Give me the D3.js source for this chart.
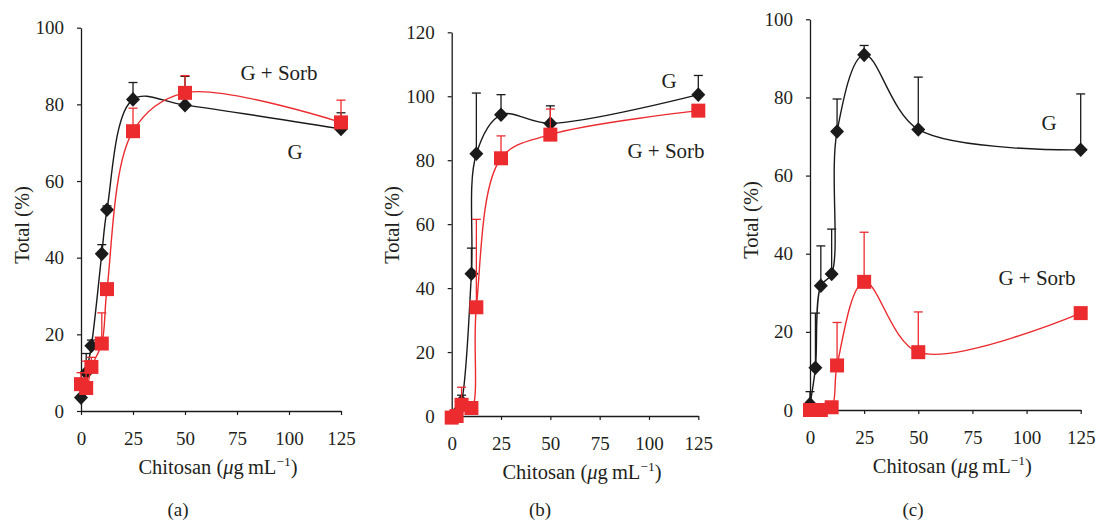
<!DOCTYPE html>
<html>
<head>
<meta charset="utf-8">
<script src="https://cdn.jsdelivr.net/npm/d3@7"></script>
<style>
  html, body { margin: 0; padding: 0; background: #fff; }
  svg { display: block; }
  text { font-family: "Liberation Serif", "DejaVu Serif", serif; fill: #231f20; }
</style>
</head>
<body>
<svg id="fig" width="1097" height="522"></svg>
<script>
// Chitosan concentrations (µg/mL) shared by all three panels
const conc = [0, 2.5, 5, 10, 12.5, 25, 50, 125];

// Panel (a)
const gA      = [3.5, 10, 17, 41, 52.5, 81.3, 79.8, 73.6];
const gAErr   = [0, 5, 1.5, 2.4, 1, 4.4, 7.5, 4.2];
const sorbA   = [7, 6, 11.5, 17.6, 31.8, 73, 83, 75.3];
const sorbAErr= [3, 7, 2.5, 8, 1, 6, 4.5, 5.8];

// Panel (b)
const gB      = [0, 1, 4.5, 44.5, 82, 94.2, 91.5, 100.5];
const gBErr   = [0, 0, 2, 8, 19, 6.3, 5.5, 6];
const sorbB   = [-0.5, 0, 3.5, 2.5, 34, 80.6, 88, 95.5];
const sorbBErr= [0, 0, 5.5, 0, 27.5, 7, 8, 0];

// Panel (c)
const gC      = [1.5, 10.8, 31.8, 34.8, 71.3, 90.9, 71.8, 66.6];
const gCErr   = [3.2, 14, 10.2, 11.5, 8.3, 2.4, 13.4, 14.3];
const sorbC   = [0, 0, 0, 0.7, 11.4, 32.8, 14.8, 24.8];
const sorbCErr= [0, 0, 0, 0, 11, 12.7, 10.3, 0];

const xTicks  = [0, 25, 50, 75, 100, 125];
const yTicksA = [0, 20, 40, 60, 80, 100];
const yTicksB = [0, 20, 40, 60, 80, 100, 120];
const yTicksC = [0, 20, 40, 60, 80, 100];

const panelTags = ["(a)", "(b)", "(c)"];
const seriesNames = ["G", "G + Sorb"];

const BLACK = "#1a1a1a";
const RED = "#ec2b2f";
const FONT = '"Liberation Serif", "DejaVu Serif", serif';

const svg = d3.select("#fig");
svg.append("rect").attr("width", 1097).attr("height", 522).attr("fill", "#fff");

const panels = [
  { tag: panelTags[0], x0: 81, x1: 341, y0: 411, y1: 27.7, yMax: 100, yTicks: yTicksA,
    g: gA, gErr: gAErr, s: sorbA, sErr: sorbAErr,
    gLab: [295, 152], sLab: [279, 73], tagX: 178, yTitleY: 225 },
  { tag: panelTags[1], x0: 451.7, x1: 698.3, y0: 416, y1: 32.3, yMax: 120, yTicks: yTicksB,
    g: gB, gErr: gBErr, s: sorbB, sErr: sorbBErr,
    gLab: [669, 81], sLab: [666, 151], tagX: 540, yTitleY: 225 },
  { tag: panelTags[2], x0: 810, x1: 1080.7, y0: 410, y1: 19.3, yMax: 100, yTicks: yTicksC,
    g: gC, gErr: gCErr, s: sorbC, sErr: sorbCErr,
    gLab: [1049, 123], sLab: [1037, 278], tagX: 913, yTitleY: 220 }
];

const diamond = (w, h) => `M0,${-h}L${w},0L0,${h}L${-w},0Z`;
const square = h => `M${-h},${-h}H${h}V${h}H${-h}Z`;

panels.forEach(p => {
  const x = d3.scaleLinear().domain([0, 125]).range([p.x0, p.x1]);
  const y = d3.scaleLinear().domain([0, p.yMax]).range([p.y0, p.y1]);
  const gp = svg.append("g");

  // axes
  const yAxis = d3.axisLeft(y).tickValues(p.yTicks).tickSize(4).tickPadding(13).tickSizeOuter(0);
  const xAxis = d3.axisBottom(x).tickValues(xTicks).tickSize(4).tickPadding(16.5).tickSizeOuter(0);
  const ya = gp.append("g").attr("transform", `translate(${p.x0},0)`).call(yAxis);
  const xa = gp.append("g").attr("transform", `translate(0,${p.y0})`).call(xAxis);
  [ya, xa].forEach(a => {
    a.attr("font-family", FONT);
    a.select(".domain").attr("stroke", BLACK).attr("stroke-width", 1.3);
    a.selectAll(".tick line").attr("stroke", BLACK).attr("stroke-width", 1.2);
    a.selectAll(".tick text").attr("font-size", 19).attr("fill", "#231f20")
      .attr("font-family", FONT);
  });

  // axis titles
  gp.append("text")
    .attr("transform", `translate(${p.x0 - 52.5},${p.yTitleY}) rotate(-90)`)
    .attr("text-anchor", "middle").attr("font-size", 20.5).attr("font-family", FONT)
    .text("Total (%)");

  const xt = gp.append("text")
    .attr("x", (p.x0 + p.x1) / 2 + 7).attr("y", p.y0 + 62.5)
    .attr("text-anchor", "middle").attr("font-size", 20.5).attr("font-family", FONT);
  xt.append("tspan").text("Chitosan (");
  xt.append("tspan").attr("font-style", "italic").text("μ");
  xt.append("tspan").text("g\u2009mL");
  xt.append("tspan").attr("font-size", 13.5).attr("dy", -8).text("−1");
  xt.append("tspan").attr("dy", 8).text(")");

  // panel tag
  svg.append("text").attr("x", p.tagX).attr("y", 516)
    .attr("text-anchor", "middle").attr("font-size", 19).attr("font-family", FONT)
    .text(p.tag);

  const line = d3.line()
    .x((d, i) => x(conc[i])).y(d => y(d))
    .curve(d3.curveCatmullRom.alpha(0.5));

  const drawSeries = (vals, errs, color, marker) => {
    gp.append("path").datum(vals).attr("d", line)
      .attr("fill", "none").attr("stroke", color).attr("stroke-width", 1.4);
    const eb = gp.append("g").attr("stroke", color).attr("stroke-width", 1.3);
    vals.forEach((v, i) => {
      if (!errs[i]) return;
      const cx = x(conc[i]);
      eb.append("line").attr("x1", cx).attr("x2", cx).attr("y1", y(v)).attr("y2", y(v + errs[i]));
      eb.append("line").attr("x1", cx - 4.5).attr("x2", cx + 4.5)
        .attr("y1", y(v + errs[i])).attr("y2", y(v + errs[i]));
    });
    gp.append("g").selectAll("path").data(vals).join("path")
      .attr("transform", (d, i) => `translate(${x(conc[i])},${y(d)})`)
      .attr("d", marker).attr("fill", color);
  };

  drawSeries(p.g, p.gErr, BLACK, diamond(7, 7.3));
  drawSeries(p.s, p.sErr, RED, square(7));

  // series labels
  gp.append("text").attr("x", p.gLab[0]).attr("y", p.gLab[1] + 7)
    .attr("text-anchor", "middle").attr("font-size", 21).attr("font-family", FONT)
    .text(seriesNames[0]);
  gp.append("text").attr("x", p.sLab[0]).attr("y", p.sLab[1] + 7)
    .attr("text-anchor", "middle").attr("font-size", 21).attr("font-family", FONT)
    .text(seriesNames[1]);
});
</script>
</body>
</html>
